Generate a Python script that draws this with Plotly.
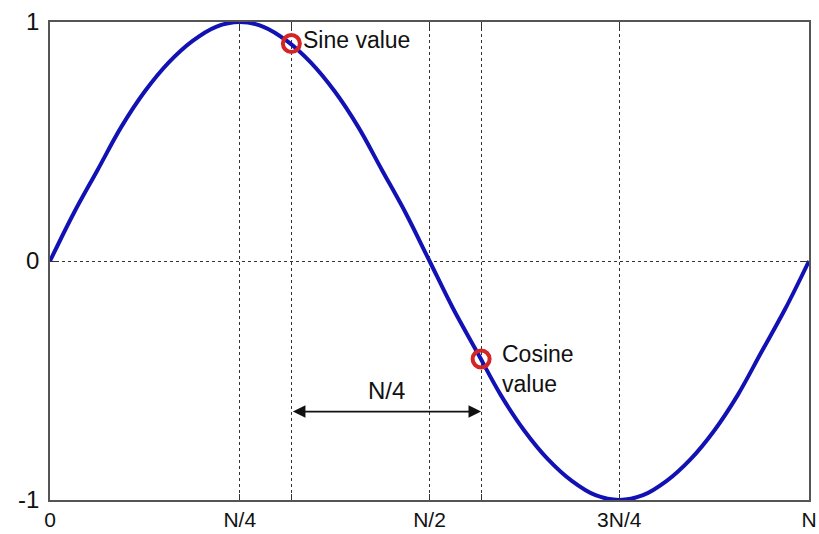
import plotly.graph_objects as go

# one period of the waveform, sampled every N/32 (x in units of N)
n_pos = [i / 32 for i in range(33)]
wave = [0.00, 0.20, 0.38, 0.56, 0.71, 0.83, 0.92, 0.98, 1.00, 0.98, 0.92, 0.83,
        0.71, 0.56, 0.38, 0.20, 0.00, -0.20, -0.38, -0.56, -0.71, -0.83, -0.92,
        -0.98, -1.00, -0.98, -0.92, -0.83, -0.71, -0.56, -0.38, -0.20, 0.00]

# the two sampled points
pick_x = [0.318, 0.568]
pick_y = [0.91, -0.41]

x_ticks = [0, 0.25, 0.318, 0.5, 0.568, 0.75, 1]
x_labels = ["0", "N/4", "", "N/2", "", "3N/4", "N"]
y_ticks = [-1, 0, 1]
y_labels = ["-1", "0", "1"]

FONT = "Liberation Sans, Arial, sans-serif"
BLUE = "#1212b4"
RED = "#d42424"

fig = go.Figure()
fig.add_trace(go.Scatter(x=n_pos, y=wave, mode="lines", line_shape="spline",
                         line=dict(color=BLUE, width=4), hoverinfo="skip"))
fig.add_trace(go.Scatter(x=pick_x, y=pick_y, mode="markers",
                         marker=dict(symbol="circle-open", size=17, color=RED,
                                     line=dict(width=4, color=RED))))

fig.add_annotation(x=pick_x[0], y=pick_y[0], text="Sine value", showarrow=False,
                   xanchor="left", xshift=10, yshift=4,
                   font=dict(size=23, color="#111"))
fig.add_annotation(x=pick_x[1], y=pick_y[1], text="Cosine<br>value", showarrow=False,
                   xanchor="left", align="left", xshift=19, yshift=-10,
                   font=dict(size=23, color="#111"))
# N/4 spacing arrow
fig.add_annotation(x=pick_x[1], y=-0.63, ax=pick_x[0], ay=-0.63,
                   xref="x", yref="y", axref="x", ayref="y", text="",
                   showarrow=True, arrowside="end+start", arrowhead=2,
                   arrowsize=1.4, arrowwidth=1.8, arrowcolor="#111")
fig.add_annotation(x=(pick_x[0] + pick_x[1]) / 2, y=-0.54, text="N/4",
                   showarrow=False, font=dict(size=24, color="#111"))

axis_common = dict(showline=True, linecolor="#555", linewidth=1.5, mirror="ticks",
                   ticks="inside", ticklen=6, tickcolor="#333", automargin=False,
                   showgrid=True, gridcolor="#333", gridwidth=1, griddash="dot",
                   zeroline=False, tickfont=dict(size=24, color="#111", family=FONT))

fig.update_xaxes(range=[0, 1], tickmode="array", tickvals=x_ticks, ticktext=x_labels,
                 ticklabelstandoff=0, ticklabeloverflow="allow", **axis_common)
fig.update_xaxes(tickfont_size=21)
fig.update_yaxes(range=[-1, 1], tickmode="array", tickvals=y_ticks, ticktext=y_labels,
                 ticklabelstandoff=4, **axis_common)

fig.update_layout(width=819, height=534, showlegend=False,
                  paper_bgcolor="white", plot_bgcolor="white",
                  font=dict(family=FONT),
                  margin=dict(l=50, r=10, t=22, b=34))

# drop the default page margin so the 819x534 figure fills the window exactly
fig.write_html("out.html", config={"displayModeBar": False},
               post_script="document.body.style.margin = '0';")
